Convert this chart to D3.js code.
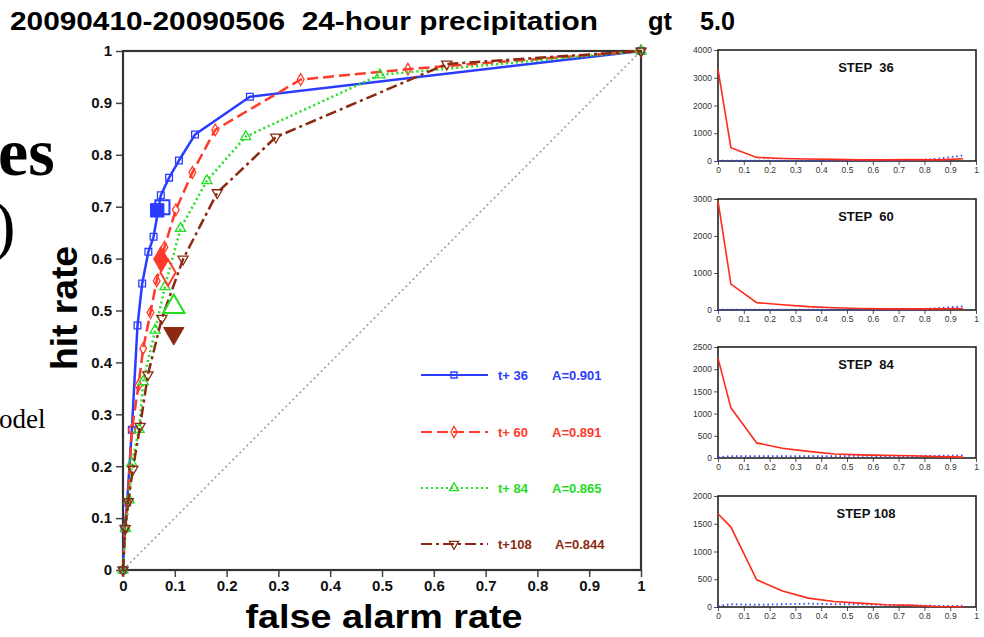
<!DOCTYPE html>
<html>
<head>
<meta charset="utf-8">
<script src="https://cdn.jsdelivr.net/npm/d3@7"></script>
<style>
  body { margin: 0; background: #fff; }
  svg { display: block; }
  text { font-family: "Liberation Sans", Arial, sans-serif; }
</style>
</head>
<body>
<div id="chart"></div>
<script>
// ROC curves: false alarm rate / hit rate per lead time
const fa36 = [0, 0.003, 0.008, 0.017, 0.028, 0.037, 0.049, 0.059, 0.073, 0.089, 0.108, 0.139, 0.245, 1];
const hr36 = [0, 0.08, 0.13, 0.27, 0.471, 0.552, 0.613, 0.642, 0.722, 0.756, 0.789, 0.839, 0.912, 1];
const fa60 = [0, 0.004, 0.009, 0.017, 0.030, 0.039, 0.053, 0.065, 0.080, 0.102, 0.134, 0.178, 0.343, 0.55, 1];
const hr60 = [0, 0.08, 0.13, 0.27, 0.356, 0.427, 0.496, 0.557, 0.622, 0.694, 0.766, 0.848, 0.945, 0.965, 1];
const fa84 = [0, 0.005, 0.012, 0.017, 0.031, 0.039, 0.062, 0.081, 0.111, 0.162, 0.237, 0.496, 1];
const hr84 = [0, 0.08, 0.135, 0.206, 0.271, 0.363, 0.462, 0.546, 0.658, 0.750, 0.835, 0.954, 1];
const fa108 = [0, 0.004, 0.010, 0.019, 0.033, 0.048, 0.075, 0.116, 0.182, 0.295, 0.625, 1];
const hr108 = [0, 0.08, 0.132, 0.194, 0.277, 0.376, 0.485, 0.599, 0.727, 0.834, 0.975, 1];

const leadNames = ["t+ 36", "t+ 60", "t+ 84", "t+108"];
const areaLabels = ["A=0.901", "A=0.891", "A=0.865", "A=0.844"];

// large operating-point markers [fa, hr]
const bigOpen = [[0.076, 0.699], [0.087, 0.573], [0.098, 0.507], null];
const bigFilled = [[0.066, 0.693], [0.073, 0.599], null, [0.098, 0.456]];

const axisTicks = [0, 0.1, 0.2, 0.3, 0.4, 0.5, 0.6, 0.7, 0.8, 0.9, 1];

// histogram panels
const probBins = [0, 0.05, 0.15, 0.25, 0.35, 0.45, 0.55, 0.65, 0.75, 0.85, 0.95];
const stepNames = ["STEP\u00a0\u00a036", "STEP\u00a0\u00a060", "STEP\u00a0\u00a084", "STEP 108"];
const stepMax = [4000, 3000, 2500, 2000];
const stepTicks = [[0, 1000, 2000, 3000, 4000], [0, 1000, 2000, 3000], [0, 500, 1000, 1500, 2000, 2500], [0, 500, 1000, 1500, 2000]];
const red36 = [3300, 480, 130, 90, 70, 60, 40, 40, 50, 40, 80];
const blue36 = [10, 10, 10, 10, 10, 10, 10, 10, 20, 80, 200];
const red60 = [2950, 700, 200, 140, 90, 60, 40, 30, 30, 30, 40];
const blue60 = [10, 10, 10, 10, 10, 10, 10, 10, 10, 50, 100];
const red84 = [2250, 1130, 340, 220, 150, 90, 70, 60, 50, 30, 20];
const blue84 = [20, 40, 40, 40, 40, 40, 50, 40, 40, 50, 60];
const red108 = [1680, 1440, 490, 290, 160, 100, 70, 40, 30, 10, 5];
const blue108 = [20, 50, 40, 50, 60, 50, 50, 40, 30, 20, 20];

const W = 984, H = 637;
const svg = d3.select("#chart").append("svg").attr("width", W).attr("height", H);

// slide fragments behind the chart
svg.append("text").attr("x", -2).attr("y", 175)
  .style("font-family", "'Liberation Serif', 'DejaVu Serif', serif")
  .style("font-weight", "bold").style("font-size", "68px").text("es");
svg.append("text").attr("x", -7).attr("y", 248)
  .style("font-family", "'Liberation Serif', 'DejaVu Serif', serif")
  .style("font-size", "68px").text(")");
svg.append("text").attr("x", -1).attr("y", 428)
  .style("font-family", "'Liberation Serif', 'DejaVu Serif', serif")
  .style("font-size", "27px").text("odel");

// title
const title = svg.append("g").style("font-weight", "bold").style("font-size", "25px");
title.append("text").attr("x", 10).attr("y", 30)
  .attr("textLength", 588).attr("lengthAdjust", "spacingAndGlyphs")
  .text("20090410-20090506\u00a0\u00a024-hour precipitation");
title.append("text").attr("x", 648).attr("y", 30)
  .attr("textLength", 24).attr("lengthAdjust", "spacingAndGlyphs").text("gt");
title.append("text").attr("x", 700).attr("y", 30)
  .attr("textLength", 35).attr("lengthAdjust", "spacingAndGlyphs").text("5.0");

// main ROC plot
const m = { left: 123, top: 51, right: 641, bottom: 570 };
const x = d3.scaleLinear().domain([0, 1]).range([m.left, m.right]);
const y = d3.scaleLinear().domain([0, 1]).range([m.bottom, m.top]);
const fmt = d => d === 0 ? "0" : d === 1 ? "1" : d3.format(".1f")(d);

const gx = svg.append("g").attr("transform", `translate(0,${m.bottom})`)
  .call(d3.axisBottom(x).tickValues(axisTicks).tickFormat(fmt).tickSize(7).tickPadding(3));
const gy = svg.append("g").attr("transform", `translate(${m.left},0)`)
  .call(d3.axisLeft(y).tickValues(axisTicks).tickFormat(fmt).tickSize(7).tickPadding(4));
[gx, gy].forEach(g => {
  g.select(".domain").remove();
  g.selectAll(".tick line").attr("stroke", "#444").attr("stroke-width", 1.5);
  g.selectAll("text").style("font-size", "15px").style("font-weight", "bold")
    .style("font-family", "'Liberation Sans', Arial, sans-serif").attr("fill", "#111");
});

svg.append("rect").attr("x", m.left).attr("y", m.top)
  .attr("width", m.right - m.left).attr("height", m.bottom - m.top)
  .attr("fill", "none").attr("stroke", "#333").attr("stroke-width", 2.2);

// no-skill diagonal
svg.append("line").attr("x1", x(0)).attr("y1", y(0)).attr("x2", x(1)).attr("y2", y(1))
  .attr("stroke", "#999").attr("stroke-width", 1.5).attr("stroke-dasharray", "2,3");

const colors = ["#2a3cff", "#ff3a2a", "#22dd22", "#8b2a10"];
const dashes = [null, "11,5", "2,3", "11,4,3,4"];
const symbols = [d3.symbolSquare, d3.symbolDiamond, d3.symbolTriangle, d3.symbolTriangle];
const rotations = [0, 0, 0, 180];
const curves = [[fa36, hr36], [fa60, hr60], [fa84, hr84], [fa108, hr108]];

const line = d3.line().x(d => x(d[0])).y(d => y(d[1]));

curves.forEach((c, i) => {
  const pts = c[0].map((f, k) => [f, c[1][k]]);
  svg.append("path").datum(pts).attr("d", line)
    .attr("fill", "none").attr("stroke", colors[i]).attr("stroke-width", 2.5)
    .attr("stroke-dasharray", dashes[i]).attr("stroke-linejoin", "round");
  svg.append("g").selectAll("path").data(pts).join("path")
    .attr("d", d3.symbol().type(symbols[i]).size(i === 1 ? 40 : 45))
    .attr("transform", d => `translate(${x(d[0])},${y(d[1])}) rotate(${rotations[i]})`)
    .attr("fill", "none").attr("stroke", colors[i]).attr("stroke-width", 1.3);
});

curves.forEach((c, i) => {
  if (bigOpen[i]) {
    svg.append("path").attr("d", d3.symbol().type(symbols[i]).size(200)())
      .attr("transform", `translate(${x(bigOpen[i][0])},${y(bigOpen[i][1])}) rotate(${rotations[i]})`)
      .attr("fill", "none").attr("stroke", colors[i]).attr("stroke-width", 2);
  }
  if (bigFilled[i]) {
    svg.append("path").attr("d", d3.symbol().type(symbols[i]).size(180)())
      .attr("transform", `translate(${x(bigFilled[i][0])},${y(bigFilled[i][1])}) rotate(${rotations[i]})`)
      .attr("fill", colors[i]).attr("stroke", colors[i]).attr("stroke-width", 1);
  }
});

// legend
const legendY = [375, 432, 488, 544];
leadNames.forEach((name, i) => {
  const g = svg.append("g").attr("transform", `translate(0,${legendY[i]})`);
  g.append("line").attr("x1", 421).attr("x2", 488)
    .attr("stroke", colors[i]).attr("stroke-width", 2.2).attr("stroke-dasharray", dashes[i]);
  g.append("path").attr("d", d3.symbol().type(symbols[i]).size(36)())
    .attr("transform", `translate(454,0) rotate(${rotations[i]})`)
    .attr("fill", "none").attr("stroke", colors[i]).attr("stroke-width", 1.3);
  g.append("text").attr("x", 498).attr("y", 5).attr("fill", colors[i])
    .style("font-size", "13px").style("font-weight", "bold").text(name);
  g.append("text").attr("x", i === 3 ? 555 : 552).attr("y", 5).attr("fill", colors[i])
    .style("font-size", "13px").style("font-weight", "bold").text(areaLabels[i]);
});

// axis titles
svg.append("text").attr("x", 384).attr("y", 628).attr("text-anchor", "middle")
  .style("font-size", "34px").style("font-weight", "bold")
  .attr("textLength", 277).attr("lengthAdjust", "spacingAndGlyphs").text("false alarm rate");
svg.append("text").attr("transform", "translate(77,308) rotate(-90)").attr("text-anchor", "middle")
  .style("font-size", "36px").style("font-weight", "bold")
  .attr("textLength", 124).attr("lengthAdjust", "spacingAndGlyphs").text("hit rate");

// histogram panels
const panelTop = [50, 199, 347, 496];
const panelH = 111;
const px = d3.scaleLinear().domain([0, 1]).range([718, 976]);
const reds = [red36, red60, red84, red108];
const blues = [blue36, blue60, blue84, blue108];

stepNames.forEach((name, i) => {
  const py = d3.scaleLinear().domain([0, stepMax[i]]).range([panelTop[i] + panelH, panelTop[i]]);
  const g = svg.append("g");
  const ax = g.append("g").attr("transform", `translate(0,${panelTop[i] + panelH})`)
    .call(d3.axisBottom(px).tickValues(axisTicks).tickFormat(fmt).tickSize(4).tickPadding(2));
  const ay = g.append("g").attr("transform", "translate(718,0)")
    .call(d3.axisLeft(py).tickValues(stepTicks[i]).tickFormat(d3.format("d")).tickSize(4).tickPadding(2));
  [ax, ay].forEach(a => {
    a.select(".domain").remove();
    a.selectAll(".tick line").attr("stroke", "#555");
    a.selectAll("text").style("font-size", "8.5px").attr("fill", "#333")
      .style("font-family", "'Liberation Sans', Arial, sans-serif");
  });
  g.append("rect").attr("x", 718).attr("y", panelTop[i]).attr("width", 258).attr("height", panelH)
    .attr("fill", "none").attr("stroke", "#222").attr("stroke-width", 1.6);

  const pl = d3.line().x((d, k) => px(probBins[k])).y(d => py(d));
  g.append("path").datum(blues[i]).attr("d", pl).attr("fill", "none")
    .attr("stroke", "#3344ff").attr("stroke-width", 1.8).attr("stroke-dasharray", "1.5,3");
  g.append("path").datum(reds[i]).attr("d", pl).attr("fill", "none")
    .attr("stroke", "#ff2a1a").attr("stroke-width", 1.6);
  g.append("text").attr("x", 866).attr("y", panelTop[i] + 22).attr("text-anchor", "middle")
    .style("font-size", "13px").style("font-weight", "bold").attr("fill", "#111")
    .text(name);
});
</script>
</body>
</html>
